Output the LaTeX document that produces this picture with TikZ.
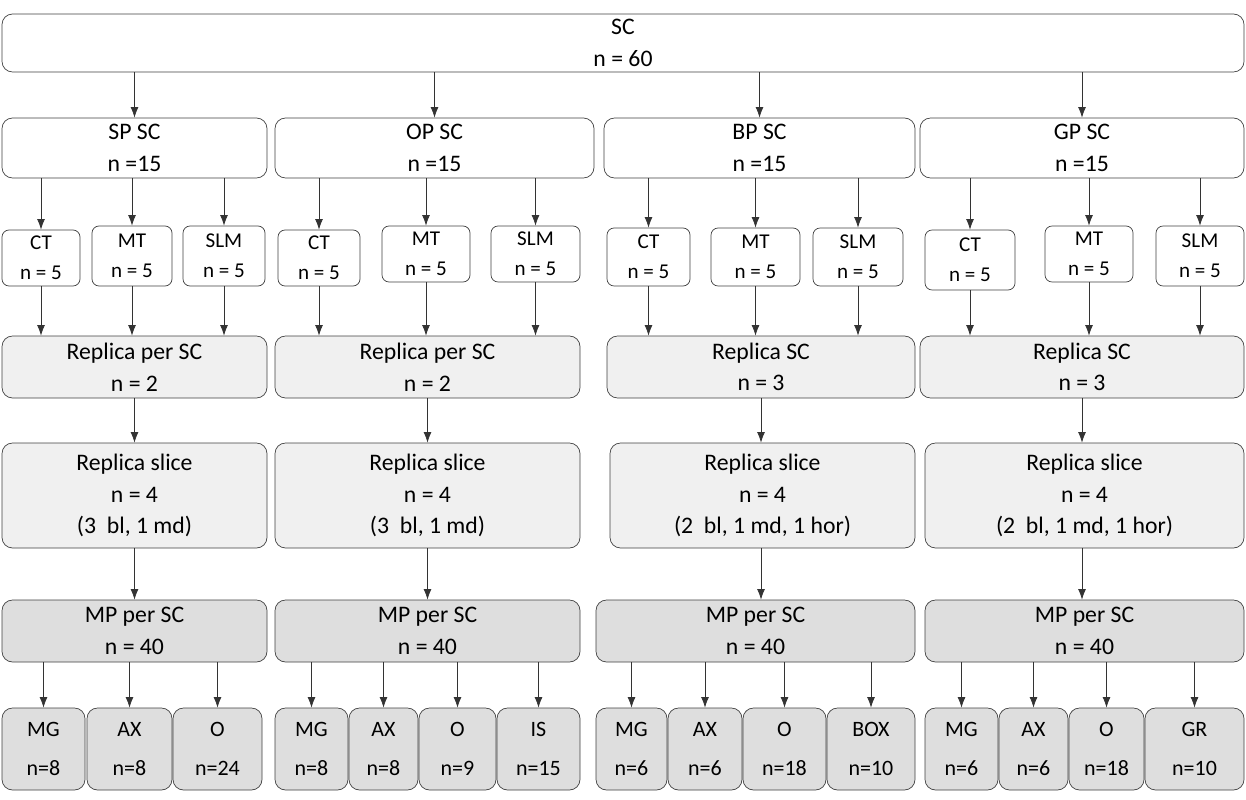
\documentclass[tikz,border=0pt]{standalone}
\usepackage{fontspec}
\setmainfont{Carlito}
\usetikzlibrary{arrows.meta}

% box from corner (x1,y1) to (x2,y2), in reference pixels
\newcommand\bx[7]{%
  \node[#6, minimum width={(#4-#2)*0.02cm}, minimum height={(#5-#3)*0.02cm}]
    at ({(#2+#4)/2},{(#3+#5)/2}) (#1) {#7};}

\tikzset{
  box/.style={shape=rectangle, rounded corners=6pt, draw=black!75, fill=white,
    align=center, inner sep=0pt, font=\fontsize{13.5}{18}\selectfont},
  small/.style={box, rounded corners=4pt, font=\fontsize{12}{17}\selectfont},
  rep/.style={box, fill=black!6},
  mp/.style={box, fill=black!13},
  leaf/.style={box, fill=black!13, font=\fontsize{12.5}{22}\selectfont},
  arr/.style={-{Latex[length=6pt,width=4.5pt]}, black!80, thin}
}

\begin{document}
\begin{tikzpicture}[x=0.02cm, y=-0.02cm]
  \useasboundingbox (0,0) rectangle (1246,800);

  % top
  \bx{sc}{2}{14}{1244}{72}{box}{SC\\n = 60}

  % groups
  \bx{sp}{2}{118}{267}{178}{box}{SP SC\\n =15}
  \bx{op}{275}{118}{594}{178}{box}{OP SC\\n =15}
  \bx{bp}{604}{118}{915}{178}{box}{BP SC\\n =15}
  \bx{gp}{920}{118}{1244}{178}{box}{GP SC\\n =15}

  % treatments
  \bx{spct}{2}{230}{80}{286}{small}{CT\\n = 5}
  \bx{spmt}{92}{226}{172}{286}{small}{MT\\n = 5}
  \bx{spslm}{183}{226}{265}{286}{small}{SLM\\n = 5}
  \bx{opct}{278}{230}{360}{286}{small}{CT\\n = 5}
  \bx{opmt}{382}{226}{470}{282}{small}{MT\\n = 5}
  \bx{opslm}{491}{226}{580}{282}{small}{SLM\\n = 5}
  \bx{bpct}{607}{228}{690}{286}{small}{CT\\n = 5}
  \bx{bpmt}{711}{228}{800}{286}{small}{MT\\n = 5}
  \bx{bpslm}{813}{228}{903}{286}{small}{SLM\\n = 5}
  \bx{gpct}{925}{230}{1015}{290}{small}{CT\\n = 5}
  \bx{gpmt}{1045}{226}{1133}{282}{small}{MT\\n = 5}
  \bx{gpslm}{1156}{226}{1244}{286}{small}{SLM\\n = 5}

  % replica
  \bx{sprep}{2}{336}{267}{398}{rep}{Replica per SC\\n = 2}
  \bx{oprep}{275}{336}{580}{398}{rep}{Replica per SC\\n = 2}
  \bx{bprep}{607}{336}{915}{398}{rep}{Replica SC\\n = 3}
  \bx{gprep}{920}{336}{1244}{398}{rep}{Replica SC\\n = 3}

  % slices
  \bx{spsl}{2}{443}{267}{548}{rep}{Replica slice\\n = 4\\(3~ bl, 1 md)}
  \bx{opsl}{275}{443}{580}{548}{rep}{Replica slice\\n = 4\\(3~ bl, 1 md)}
  \bx{bpsl}{610}{443}{915}{548}{rep}{Replica slice\\n = 4\\(2~ bl, 1 md, 1 hor)}
  \bx{gpsl}{925}{443}{1244}{548}{rep}{Replica slice\\n = 4\\(2~ bl, 1 md, 1 hor)}

  % MP
  \bx{spmp}{2}{600}{267}{662}{mp}{MP per SC\\n = 40}
  \bx{opmp}{275}{600}{580}{662}{mp}{MP per SC\\n = 40}
  \bx{bpmp}{596}{600}{915}{662}{mp}{MP per SC\\n = 40}
  \bx{gpmp}{925}{600}{1244}{662}{mp}{MP per SC\\n = 40}

  % leaves
  \bx{spmg}{2}{708}{85}{790}{leaf}{MG\\n=8}
  \bx{spax}{87}{708}{172}{790}{leaf}{AX\\n=8}
  \bx{spo}{173}{708}{262}{790}{leaf}{O\\n=24}
  \bx{opmg}{275}{708}{348}{790}{leaf}{MG\\n=8}
  \bx{opax}{349}{708}{418}{790}{leaf}{AX\\n=8}
  \bx{opo}{419}{708}{496}{790}{leaf}{O\\n=9}
  \bx{opis}{497}{708}{580}{790}{leaf}{IS\\n=15}
  \bx{bpmg}{596}{708}{667}{790}{leaf}{MG\\n=6}
  \bx{bpax}{668}{708}{742}{790}{leaf}{AX\\n=6}
  \bx{bpo}{743}{708}{826}{790}{leaf}{O\\n=18}
  \bx{bpbox}{827}{708}{915}{790}{leaf}{BOX\\n=10}
  \bx{gpmg}{925}{708}{998}{790}{leaf}{MG\\n=6}
  \bx{gpax}{999}{708}{1068}{790}{leaf}{AX\\n=6}
  \bx{gpo}{1069}{708}{1144}{790}{leaf}{O\\n=18}
  \bx{gpgr}{1145}{708}{1244}{790}{leaf}{GR\\n=10}

  % arrows
  \foreach \g in {sp,op,bp,gp}{
    \draw[arr] (sc.south -| \g.north) -- (\g.north);
    \foreach \t in {ct,mt,slm}{
      \draw[arr] (\g.south -| \g\t.north) -- (\g\t.north);
      \draw[arr] (\g\t.south) -- (\g\t.south |- \g rep.north);
    }
    \draw[arr] (\g rep.south) -- (\g rep.south |- \g sl.north);
    \draw[arr] (\g rep.south |- \g sl.south) -- (\g rep.south |- \g mp.north);
  }
  \foreach \l in {spmg,spax,spo,opmg,opax,opo,opis,bpmg,bpax,bpo,bpbox}{
    \draw[arr] (\l.north |- spmp.south) -- (\l.north);
  }
  \foreach \l in {gpmg,gpax,gpo,gpgr}{
    \draw[arr] (\l.north |- gpmp.south) -- (\l.north);
  }
\end{tikzpicture}
\end{document}
